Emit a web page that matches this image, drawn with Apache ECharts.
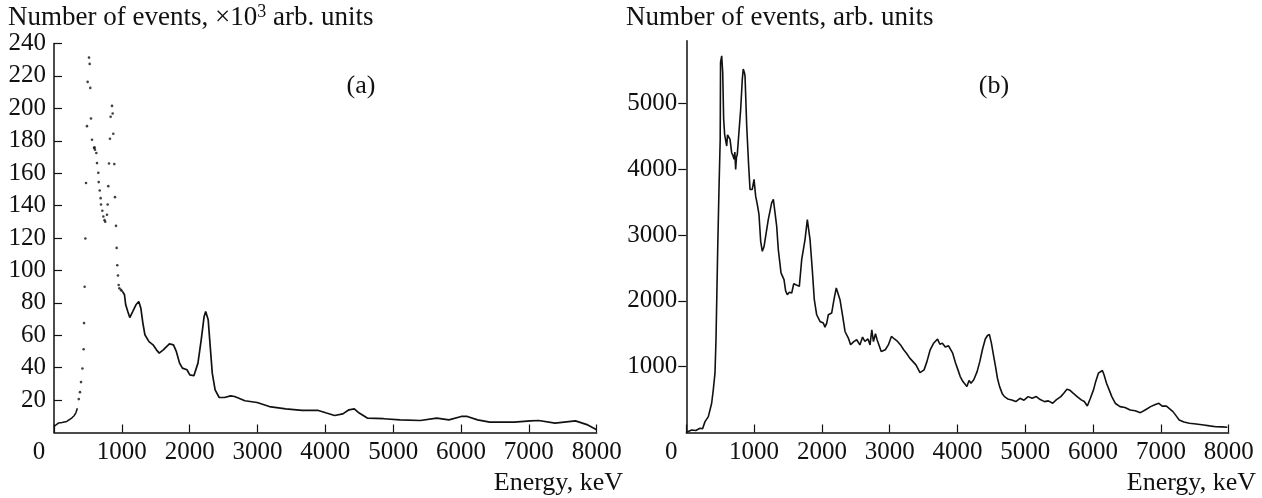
<!DOCTYPE html>
<html>
<head>
<meta charset="utf-8">
<script src="https://cdn.jsdelivr.net/npm/echarts@6/dist/echarts.min.js"></script>
<style>
html,body{margin:0;padding:0;background:#fff;}
#chart{width:1262px;height:498px;}
</style>
</head>
<body>
<div id="chart"></div>
<script>
// ---- Data ----
const xTicks = [0, 1000, 2000, 3000, 4000, 5000, 6000, 7000, 8000];
const yTicksB = [1000, 2000, 3000, 4000, 5000];

// Panel (a): ×10^3 arb. units
const aLow = [[0,3.7],[64,5.8],[120,6.2],[187,6.8],[261,8.9],[300,10.5],[324,12.3],[344,15]];
const aDots = [[365,20.6],[383,24.9],[398,31.1],[419,39.5],[437,51.4],[443,67.5],[452,89.9],[462,119.7],[472,153.9],[486,189],[496,216.3],[516,231.3],[526,227.4],[535,212.6],[545,193.7],[560,180.6],[590,175.5],[597,176],[604,174.5],[624,172.4],[634,166.2],[653,160.2],[659,154.5],[674,149.3],[688,144.6],[693,140.7],[712,136.8],[727,133.3],[745,131],[755,130],[781,134.3],[791,140.7],[800,152],[811,166],[825,181.2],[835,194.8],[855,201.5],[865,196.8],[874,184.3],[889,165.6],[899,145.2],[914,127.5],[924,113.9],[933,103.2],[943,96.9],[953,91],[963,89],[985,88],[998,87.5]];
const aHigh = [[1010,87],[1039,85],[1057,78.8],[1088,74.6],[1117,70.9],[1160,74.6],[1208,78.8],[1250,80.8],[1280,76.7],[1310,67.5],[1340,60.3],[1400,56.1],[1460,54.1],[1510,51],[1551,49],[1611,51],[1701,54.7],[1761,54.1],[1803,50],[1851,42.8],[1893,39.7],[1960,38.7],[2002,35.6],[2062,35],[2122,42.8],[2170,57.2],[2213,71.6],[2236,74.6],[2273,69.5],[2303,53],[2333,36.6],[2375,26.3],[2435,21.6],[2513,21.6],[2603,22.6],[2663,22.2],[2814,19.6],[2994,18.5],[3175,16],[3416,14.6],[3656,13.6],[3897,13.6],[4017,12],[4137,10.5],[4258,11.5],[4348,14],[4427,14.6],[4499,12],[4618,8.9],[4860,8.5],[5100,7.8],[5401,7.4],[5641,8.9],[5822,7.8],[6003,9.9],[6093,9.9],[6244,7.8],[6424,6.4],[6785,6.4],[7025,7.2],[7146,7.4],[7386,5.8],[7687,7.2],[7868,4.7],[8000,1.7]];

// Panel (b): arb. units
const bData = [[0,3],[80,38],[140,30],[202,64],[240,58],[276,165],[300,150],[325,241],[374,444],[398,647],[423,901],[438,1408],[463,2778],[482,3691],[500,4452],[505,5619],[522,5720],[537,5467],[551,4757],[566,4520],[581,4503],[596,4350],[608,4520],[620,4503],[645,4452],[669,4249],[690,4200],[704,4148],[716,4260],[728,3995],[740,4180],[752,4224],[777,4198],[802,4909],[826,5365],[840,5520],[851,5543],[858,5460],[866,5416],[891,4654],[920,4046],[940,3691],[973,3691],[999,3843],[1023,3589],[1047,3463],[1072,3311],[1097,2904],[1121,2752],[1146,2820],[1171,2803],[1209,3234],[1259,3488],[1284,3540],[1333,3133],[1357,2778],[1397,2423],[1441,2321],[1465,2150],[1490,2093],[1520,2130],[1555,2119],[1585,2260],[1614,2245],[1667,2219],[1702,2626],[1751,2930],[1785,3234],[1825,2930],[1858,2473],[1888,2017],[1923,1788],[1972,1687],[2021,1662],[2045,1600],[2071,1662],[2095,1788],[2144,1814],[2178,2017],[2212,2195],[2267,2017],[2307,1763],[2341,1534],[2390,1434],[2423,1332],[2470,1380],[2513,1408],[2560,1330],[2600,1450],[2634,1382],[2680,1420],[2710,1330],[2736,1560],[2760,1380],[2790,1500],[2814,1408],[2875,1230],[2935,1256],[2980,1330],[3025,1458],[3070,1420],[3116,1382],[3160,1330],[3206,1256],[3250,1200],[3296,1129],[3340,1080],[3387,1027],[3447,910],[3507,951],[3550,1080],[3597,1256],[3650,1360],[3706,1418],[3740,1340],[3777,1357],[3820,1300],[3868,1317],[3929,1205],[3970,1060],[4007,951],[4040,850],[4080,773],[4139,697],[4170,790],[4199,749],[4240,800],[4289,925],[4330,1080],[4367,1256],[4410,1420],[4440,1469],[4470,1490],[4500,1357],[4530,1180],[4561,1002],[4590,820],[4621,697],[4660,590],[4693,545],[4740,510],[4801,495],[4860,470],[4922,520],[4980,490],[5043,545],[5100,520],[5162,545],[5220,500],[5283,469],[5340,480],[5404,444],[5460,500],[5524,545],[5570,600],[5614,657],[5660,640],[5705,597],[5760,550],[5825,495],[5870,470],[5915,403],[5960,520],[6006,647],[6040,780],[6078,901],[6137,941],[6160,880],[6198,749],[6240,640],[6276,545],[6330,440],[6397,393],[6470,380],[6547,342],[6620,330],[6698,301],[6780,350],[6848,393],[6910,420],[6969,444],[7020,400],[7077,403],[7130,360],[7178,317],[7220,260],[7270,190],[7340,160],[7420,140],[7520,130],[7631,114],[7720,100],[7811,88],[7900,85],[7979,79]];

// ---- Chart ----
const FONT = '"Liberation Serif", "DejaVu Serif", serif';
const black = '#111111';

function xAxisCfg(gridIndex) {
  return {
    type: 'value', gridIndex, min: 0, max: 8000, interval: 1000,
    axisLine: { show: true, onZero: false, lineStyle: { color: black, width: 1.5 } },
    axisTick: { show: true, inside: true, length: 8, lineStyle: { color: black, width: 1.2 } },
    splitLine: { show: false },
    axisLabel: {
      color: black, fontFamily: FONT, fontSize: 25, margin: 7,
      formatter: v => v === 0 ? '{z|0}' : String(v),
      rich: { z: { fontFamily: FONT, fontSize: 25, color: black, padding: [0, 30, 0, 0] } }
    }
  };
}

const titleRich = {
  n: { fontFamily: FONT, fontSize: 27, color: black, lineHeight: 30 },
  s: { fontFamily: FONT, fontSize: 18, color: black, verticalAlign: 'top', lineHeight: 30, padding: [0, 0, 8, 0] }
};

const option = {
  animation: false,
  backgroundColor: '#ffffff',
  title: [
    { text: '{n|Number of events, \u00d710}{s|3}{n| arb. units}', left: 8, top: 3, padding: 0,
      textStyle: { fontFamily: FONT, fontSize: 27, fontWeight: 'normal', color: black, rich: titleRich } },
    { text: 'Number of events, arb. units', left: 626, top: 3, padding: 0,
      textStyle: { fontFamily: FONT, fontSize: 27, fontWeight: 'normal', color: black, lineHeight: 30 } }
  ],
  grid: [
    { left: 54, top: 43.5, width: 542.7, height: 389, containLabel: false },
    { left: 686.3, top: 40.7, width: 542.4, height: 391.8, containLabel: false }
  ],
  xAxis: [xAxisCfg(0), xAxisCfg(1)],
  yAxis: [
    { type: 'value', gridIndex: 0, min: 0, max: 240, interval: 20,
      axisLine: { show: true, onZero: false, lineStyle: { color: black, width: 1.5 } },
      axisTick: { show: true, inside: true, length: 8, lineStyle: { color: black, width: 1.2 } },
      splitLine: { show: false },
      axisLabel: { color: black, fontFamily: FONT, fontSize: 25, margin: 8, showMinLabel: false } },
    { type: 'value', gridIndex: 1, min: 0, max: 5950,
      axisLine: { show: true, onZero: false, lineStyle: { color: black, width: 1.5 } },
      axisTick: { show: true, inside: false, length: 8, customValues: yTicksB, lineStyle: { color: black, width: 1.2 } },
      splitLine: { show: false },
      axisLabel: { color: black, fontFamily: FONT, fontSize: 25, margin: 9, customValues: yTicksB,
        formatter: v => String(v) } }
  ],
  graphic: [
    { type: 'text', style: { text: '(a)', x: 361, y: 86, textAlign: 'center', textVerticalAlign: 'middle', font: '26px ' + FONT, fill: black } },
    { type: 'text', style: { text: '(b)', x: 994, y: 86, textAlign: 'center', textVerticalAlign: 'middle', font: '26px ' + FONT, fill: black } },
    { type: 'text', style: { text: 'Energy, keV', x: 623, y: 483, textAlign: 'right', textVerticalAlign: 'middle', font: '26px ' + FONT, fill: black } },
    { type: 'text', style: { text: 'Energy, keV', x: 1256, y: 483, textAlign: 'right', textVerticalAlign: 'middle', font: '26px ' + FONT, fill: black } }
  ],
  series: [
    { type: 'line', xAxisIndex: 0, yAxisIndex: 0, data: aLow, symbol: 'none', lineStyle: { color: black, width: 1.5 } },
    { type: 'scatter', xAxisIndex: 0, yAxisIndex: 0, data: aDots, symbolSize: 2.6, itemStyle: { color: black } },
    { type: 'line', xAxisIndex: 0, yAxisIndex: 0, data: aHigh, symbol: 'none', lineStyle: { color: black, width: 1.7 } },
    { type: 'line', xAxisIndex: 1, yAxisIndex: 1, data: bData, symbol: 'none', lineStyle: { color: black, width: 1.6 } }
  ]
};

const chart = echarts.init(document.getElementById('chart'), null, { renderer: 'canvas' });
chart.setOption(option);
</script>
</body>
</html>
